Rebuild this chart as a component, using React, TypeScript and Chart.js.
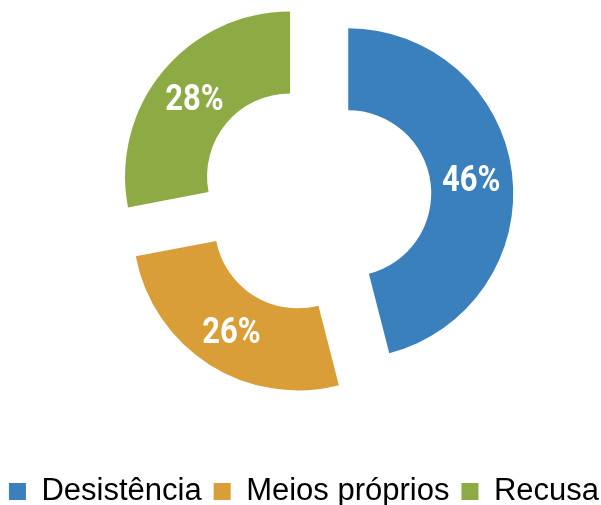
import React, { useEffect, useRef } from 'react';
import { Chart, registerables } from 'chart.js';

Chart.register(...registerables);

const categories = ['Desistência', 'Meios próprios', 'Recusa'];
const values = [46, 26, 28];
const valueLabels = ['46%', '26%', '28%'];
const colors = ['#3A80BD', '#DA9E38', '#8DAA44'];

const SLICE_SHIFT = 33; // px each slice is pulled away from the centre
const OUTER_RADIUS = 165;
const LEGEND_SHIFT = -11.5;
const CANVAS_W = 631;
const CANVAS_H = 586;
const CANVAS_TOP = -69;

// Pull every slice straight out along its mid angle (pure translation, no resizing).
const explode = {
  id: 'explode',
  beforeDatasetDraw(chart: any, args: any) {
    args.meta.data.forEach((arc: any) => {
      if (arc.__exploded) return;
      const orig = arc.draw.bind(arc);
      arc.draw = (ctx: CanvasRenderingContext2D, area: any) => {
        const mid = (arc.startAngle + arc.endAngle) / 2;
        ctx.save();
        ctx.translate(Math.cos(mid) * SLICE_SHIFT, Math.sin(mid) * SLICE_SHIFT);
        orig(ctx, area);
        ctx.restore();
      };
      arc.__exploded = true;
    });
  },
};

const sliceLabels = {
  id: 'sliceLabels',
  afterDatasetsDraw(chart: any) {
    const ctx = chart.ctx;
    const meta = chart.getDatasetMeta(0);
    ctx.save();
    ctx.font = 'bold 36px Roboto, "Open Sans", sans-serif';
    ctx.fillStyle = '#ffffff';
    ctx.textAlign = 'center';
    ctx.textBaseline = 'alphabetic';
    meta.data.forEach((arc: any, i: number) => {
      const { x, y, startAngle, endAngle, innerRadius, outerRadius } = arc.getProps(
        ['x', 'y', 'startAngle', 'endAngle', 'innerRadius', 'outerRadius'],
        true
      );
      const mid = (startAngle + endAngle) / 2;
      const r = SLICE_SHIFT + (innerRadius + outerRadius) / 2;
      const px = x + Math.cos(mid) * r;
      const py = y + Math.sin(mid) * r + 13;
      ctx.save();
      ctx.translate(px, py);
      ctx.scale(0.86, 1);
      ctx.fillText(valueLabels[i], 0, 0);
      ctx.restore();
    });
    ctx.restore();
  },
};

const legendShift = {
  id: 'legendShift',
  afterLayout(chart: any) {
    const lg = chart.legend;
    if (!lg) return;
    lg.left += LEGEND_SHIFT;
    lg.right += LEGEND_SHIFT;
  },
};

export default function App() {
  const ref = useRef<HTMLCanvasElement | null>(null);

  useEffect(() => {
    if (!ref.current) return;
    const chart = new Chart(ref.current, {
      type: 'doughnut',
      data: {
        labels: categories,
        datasets: [
          {
            data: values,
            backgroundColor: colors,
            borderWidth: 0,
            offset: 0,
            hoverOffset: 0,
            radius: OUTER_RADIUS,
            cutout: '50.3%',
          } as any,
        ],
      },
      options: {
        animation: false,
        responsive: false,
        events: [],
        layout: { padding: 0 },
        plugins: {
          legend: {
            position: 'bottom',
            labels: {
              boxWidth: 17,
              boxHeight: 17,
              padding: 12,
              color: '#000000',
              font: { size: 31, family: '"Liberation Sans", Arial, sans-serif' },
            },
          },
          tooltip: { enabled: false },
        },
      } as any,
      plugins: [explode, sliceLabels, legendShift],
    });
    return () => chart.destroy();
  }, []);

  return (
    <div style={{ position: 'fixed', left: 0, top: 0, width: 601, height: 505, overflow: 'hidden', background: '#fff' }}>
      <canvas
        ref={ref}
        width={CANVAS_W}
        height={CANVAS_H}
        style={{ position: 'absolute', left: 0, top: CANVAS_TOP, display: 'block', width: CANVAS_W, height: CANVAS_H }}
      />
    </div>
  );
}
